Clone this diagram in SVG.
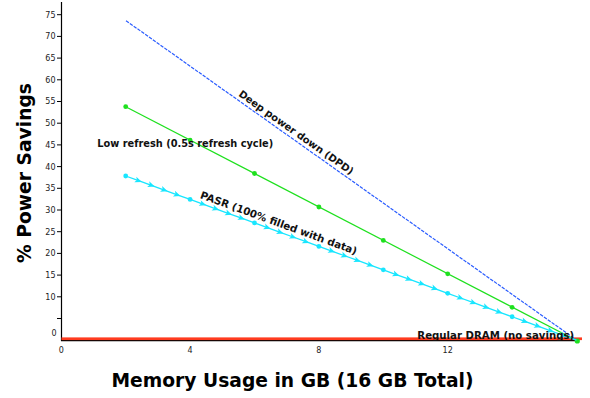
<svg xmlns="http://www.w3.org/2000/svg" width="590" height="398" viewBox="0 0 590 398">
<style>
.tick{font-family:"DejaVu Sans",sans-serif;font-size:8px;fill:#222}
.lbl{font-family:"DejaVu Sans",sans-serif;font-size:10px;font-weight:bold;fill:#111}
.title{font-family:"DejaVu Sans",sans-serif;font-size:18.7px;font-weight:bold;fill:#000}
.cy{fill:none;stroke:#18e6ff;stroke-width:1.3;marker-mid:url(#arr)}
</style>
<defs>
<marker id="arr" markerUnits="userSpaceOnUse" markerWidth="10" markerHeight="10" viewBox="-5 -5 10 10" refX="0" refY="0" orient="auto">
<path d="M3.5,0 L-3.5,-3 L-1.8,0 L-3.5,3 Z" fill="#18e6ff"/>
</marker>
</defs>
<rect width="590" height="398" fill="#fff"/>
<g id="axes">
<line x1="61.5" y1="2" x2="61.5" y2="341" stroke="#000" stroke-width="1.2"/>
<line x1="61" y1="340.6" x2="578" y2="340.6" stroke="#000" stroke-width="1.2"/>
<g stroke="#000" stroke-width="1">
<line x1="57" y1="14.7" x2="61.5" y2="14.7"/><line x1="57" y1="36.4" x2="61.5" y2="36.4"/>
<line x1="57" y1="58.1" x2="61.5" y2="58.1"/><line x1="57" y1="79.8" x2="61.5" y2="79.8"/>
<line x1="57" y1="101.5" x2="61.5" y2="101.5"/><line x1="57" y1="123.2" x2="61.5" y2="123.2"/>
<line x1="57" y1="144.9" x2="61.5" y2="144.9"/><line x1="57" y1="166.6" x2="61.5" y2="166.6"/>
<line x1="57" y1="188.3" x2="61.5" y2="188.3"/><line x1="57" y1="210" x2="61.5" y2="210"/>
<line x1="57" y1="231.7" x2="61.5" y2="231.7"/><line x1="57" y1="253.4" x2="61.5" y2="253.4"/>
<line x1="57" y1="275.1" x2="61.5" y2="275.1"/><line x1="57" y1="296.8" x2="61.5" y2="296.8"/>
<line x1="57" y1="318.5" x2="61.5" y2="318.5"/>
</g>
<g class="tick" text-anchor="end">
<text x="55.5" y="17.6">75</text><text x="55.5" y="39.3">70</text><text x="55.5" y="61">65</text>
<text x="55.5" y="82.7">60</text><text x="55.5" y="104.4">55</text><text x="55.5" y="126.1">50</text>
<text x="55.5" y="147.8">45</text><text x="55.5" y="169.5">40</text><text x="55.5" y="191.2">35</text>
<text x="55.5" y="212.9">30</text><text x="55.5" y="234.6">25</text><text x="55.5" y="256.3">20</text>
<text x="55.5" y="278">15</text><text x="55.5" y="299.7">10</text><text x="56.5" y="335.9">0</text>
</g>
<g class="tick" text-anchor="middle">
<text x="61.3" y="353">0</text><text x="190.1" y="353">4</text>
<text x="318.9" y="353">8</text><text x="447.7" y="353">12</text>
</g>
<text class="title" x="292.5" y="386.5" text-anchor="middle">Memory Usage in GB (16 GB Total)</text>
<text class="title" transform="translate(30.5,173) rotate(-90)" text-anchor="middle">% Power Savings</text>
</g>
<g id="connectors">
<g id="regular-dram">
<rect x="61.5" y="337.4" width="520.5" height="2.7" fill="#ff3b1f"/>
</g>
<g id="dpd">
<line x1="126" y1="20.7" x2="576.5" y2="340" stroke="#2a5cff" stroke-width="1.2" stroke-dasharray="3.5,1.2"/>
</g>
<g id="low-refresh">
<line x1="125.7" y1="106.7" x2="576.5" y2="340.5" stroke="#1ee01e" stroke-width="1.2"/>
<g fill="#1ee01e">
<circle cx="125.7" cy="106.7" r="2.4"/><circle cx="190.1" cy="140.1" r="2.4"/>
<circle cx="254.5" cy="173.5" r="2.4"/><circle cx="318.9" cy="207" r="2.4"/>
<circle cx="383.3" cy="240.4" r="2.4"/><circle cx="447.7" cy="273.8" r="2.4"/>
<circle cx="512.1" cy="307.3" r="2.4"/><circle cx="577.3" cy="341" r="2.6"/>
</g>
</g>
<g id="pasr">
<polyline class="cy" points="125.7,176 138.58,180.69 151.46,185.38 164.34,190.08 177.22,194.77 190.1,199.46"/>
<polyline class="cy" points="190.1,199.46 202.98,204.15 215.86,208.84 228.74,213.54 241.62,218.23 254.5,222.92"/>
<polyline class="cy" points="254.5,222.92 267.38,227.61 280.26,232.3 293.14,237 306.02,241.69 318.9,246.38"/>
<polyline class="cy" points="318.9,246.38 331.78,251.07 344.66,255.76 357.54,260.46 370.42,265.15 383.3,269.84"/>
<polyline class="cy" points="383.3,269.84 396.18,274.53 409.06,279.22 421.94,283.92 434.82,288.61 447.7,293.3"/>
<polyline class="cy" points="447.7,293.3 460.58,297.99 473.46,302.68 486.34,307.38 499.22,312.07 512.1,316.76"/>
<polyline class="cy" points="512.1,316.76 524.98,321.45 537.86,326.14 550.74,330.84 563.62,335.53 576.5,340.22"/>
<g fill="#18e6ff">
<circle cx="125.7" cy="176" r="2.4"/><circle cx="190.1" cy="199.46" r="2.4"/>
<circle cx="254.5" cy="222.92" r="2.4"/><circle cx="318.9" cy="246.38" r="2.4"/>
<circle cx="383.3" cy="269.84" r="2.4"/><circle cx="447.7" cy="293.3" r="2.4"/>
<circle cx="512.1" cy="316.76" r="2.4"/>
</g>
</g>
</g>
<g id="labels">
<text class="lbl" x="97.3" y="147.3" style="font-size:9.8px">Low refresh (0.5s refresh cycle)</text>
<text class="lbl" transform="translate(238,95.5) rotate(35.3)">Deep power down (DPD)</text>
<text class="lbl" transform="translate(199.5,198) rotate(20)" style="font-size:10.3px">PASR (100% filled with data)</text>
<text class="lbl" x="417.3" y="339" style="font-size:10.2px">Regular DRAM (no savings)</text>
</g>
</svg>
